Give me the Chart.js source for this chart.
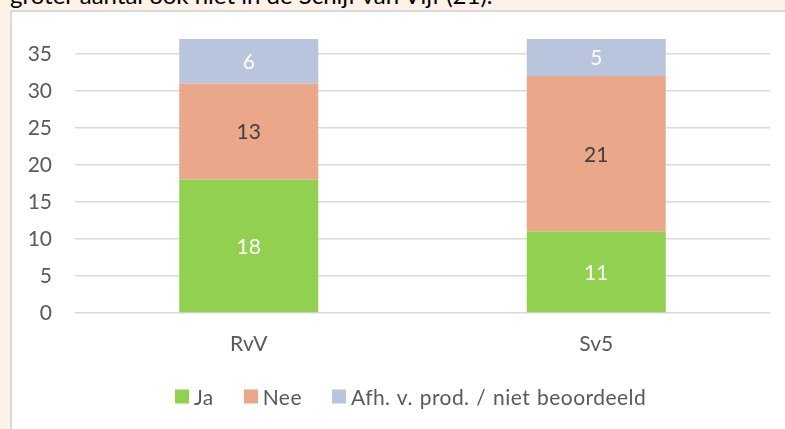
<!DOCTYPE html>
<html>
<head>
<meta charset="utf-8">
<script src="https://cdn.jsdelivr.net/npm/chart.js@4"></script>
<style>
  html, body { margin: 0; padding: 0; }
  body { width: 785px; height: 429px; background: #fdf2e8; position: relative; overflow: hidden; font-family: Lato, "Open Sans", sans-serif; }
  #intro { position: absolute; left: 10px; top: -20px; font-size: 24px; color: #000; white-space: nowrap; line-height: 30px; }
  #frame { position: absolute; left: 10px; top: 10px; width: 800px; height: 450px; background: #fff; border-top: 2px solid #d9d9d9; border-left: 2px solid #d9d9d9; }
  #wrap { position: absolute; left: 12px; top: 12px; width: 773px; height: 417px; }
  #legend { position: absolute; left: 12px; top: 384px; width: 773px; display: flex; justify-content: center; transform: translateY(-50%); font-size: 21px; color: #595959; letter-spacing: 0.45px; word-spacing: 1px; }
  .item { display: flex; align-items: center; margin: 0 15px; }
  .box { width: 14px; height: 14px; margin-right: 5px; }
</style>
</head>
<body>
<div id="intro">groter aantal ook niet in de Schijf van Vijf (21).</div>
<div id="frame"></div>
<div id="wrap">
  <canvas id="c" width="773" height="417"></canvas>
  <div id="legend"></div>
</div>
<script>
// Categories and series counts
const categories = ['RvV', 'Sv5'];
const seriesNames = ['Ja', 'Nee', 'Afh. v. prod. / niet beoordeeld'];
const jaValues = [18, 11];
const neeValues = [13, 21];
const afhValues = [6, 5];
const yTicks = [0, 5, 10, 15, 20, 25, 30, 35];

const colors = ['#92d050', '#eaa78a', '#b9c5dc'];
const labelColors = ['#ffffff', '#404040', '#ffffff'];
const seriesValues = [jaValues, neeValues, afhValues];

const FONT = { family: 'Lato, "Open Sans", sans-serif', size: 21 };

// Value labels centred in each stacked segment
const segmentLabels = {
  id: 'segmentLabels',
  afterDatasetsDraw(chart) {
    const ctx = chart.ctx;
    ctx.save();
    ctx.font = `${FONT.size}px ${FONT.family}`;
    ctx.textAlign = 'center';
    ctx.textBaseline = 'middle';
    chart.data.datasets.forEach((ds, i) => {
      chart.getDatasetMeta(i).data.forEach((bar, j) => {
        const p = bar.getProps(['x', 'y', 'base'], true);
        ctx.fillStyle = labelColors[i];
        ctx.fillText(String(ds.data[j]), p.x, (p.y + p.base) / 2 + 1);
      });
    });
    ctx.restore();
  }
};

new Chart(document.getElementById('c'), {
  type: 'bar',
  data: {
    labels: categories,
    datasets: seriesNames.map((name, i) => ({
      label: name,
      data: seriesValues[i],
      backgroundColor: colors[i],
      borderWidth: 0,
      barPercentage: 0.4,
      categoryPercentage: 1.0
    }))
  },
  options: {
    responsive: false,
    animation: false,
    layout: { padding: { left: 0, right: 15, top: 27, bottom: 56 } },
    plugins: { legend: { display: false }, tooltip: { enabled: false } },
    scales: {
      x: {
        stacked: true,
        grid: { display: false },
        border: { display: false },
        ticks: { color: '#595959', font: FONT, padding: 11 },
        afterFit(scale) { scale.height = 60; scale.paddingLeft = 0; scale.paddingRight = 0; }
      },
      y: {
        stacked: true,
        min: 0,
        max: 37,
        grid: { color: '#d9d9d9', lineWidth: 1.5, drawTicks: false },
        border: { display: false },
        ticks: { color: '#595959', font: FONT, padding: 23, stepSize: 5 },
        afterBuildTicks(scale) { scale.ticks = yTicks.map(v => ({ value: v })); },
        afterFit(scale) { scale.width = 63; scale.paddingTop = 0; scale.paddingBottom = 0; }
      }
    }
  },
  plugins: [segmentLabels]
});

// Legend entries from the series names and colours
const legend = document.getElementById('legend');
seriesNames.forEach((name, i) => {
  const item = document.createElement('div');
  item.className = 'item';
  const box = document.createElement('span');
  box.className = 'box';
  box.style.background = colors[i];
  const txt = document.createElement('span');
  txt.textContent = name;
  item.appendChild(box);
  item.appendChild(txt);
  legend.appendChild(item);
});
</script>
</body>
</html>
